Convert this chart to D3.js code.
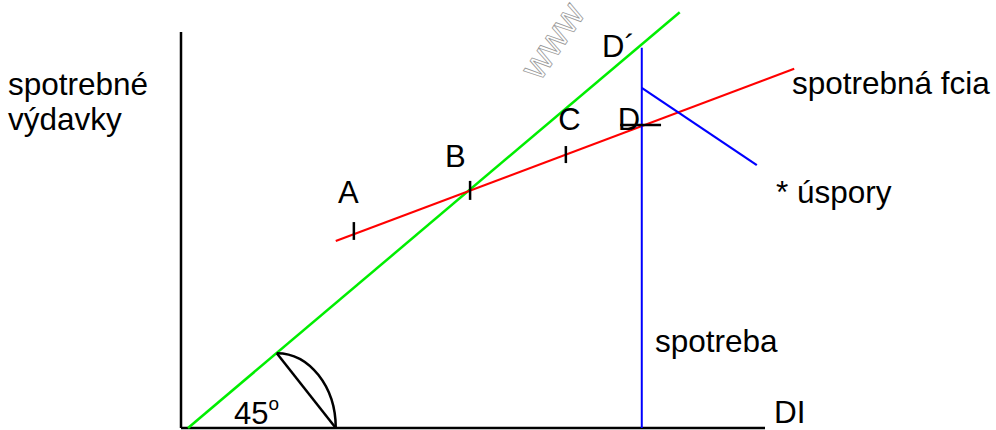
<!DOCTYPE html>
<html>
<head>
<meta charset="utf-8">
<script src="https://cdn.jsdelivr.net/npm/d3@7/dist/d3.min.js"></script>
<style>
  body { margin: 0; background: #fff; }
  text { font-family: "Liberation Sans", Arial, sans-serif; }
</style>
</head>
<body>
<svg width="996" height="430"></svg>
<script>
// line endpoints in chart units (x: disposable income, y: consumption)
const diagonal = [[1.2, 0], [85.4, 105]];         // 45 degree line
const consumption = [[26.5, 47.2], [105, 90.7]];  // spotrebna funkcia
const spendLine = [[78.9, 0], [78.9, 96]];        // spotreba (vertical)
const savingsLine = [[78.9, 85.9], [98.6, 66.4]]; // uspory
// tick marks on the consumption line
const ticks = [
  [[29.6, 47.5], [29.6, 52]],
  [[49.5, 57.6], [49.5, 62.4]],
  [[65.9, 66.9], [65.9, 71.2]],
  [[75.2, 76.5], [82.2, 76.5]]
];
const pointLabels = ["A", "B", "C", "D", "D´"];
const pointPos = [[26.9, 56.8], [45.2, 65.9], [64.6, 75.3], [74.8, 75.3], [72.1, 93.7]];
const angleArc = [[16.4, 18.9], [26.5, 0]];

const svg = d3.select("svg");
const x = d3.scaleLinear().domain([0, 100]).range([181, 765]);
const y = d3.scaleLinear().domain([0, 100]).range([428, 32]);
const line = d3.line().x(d => x(d[0])).y(d => y(d[1]));

// axes
svg.append("line").attr("x1", x(0)).attr("x2", x(0)).attr("y1", y(0)).attr("y2", y(100))
  .attr("stroke", "#000").attr("stroke-width", 2.5);
svg.append("line").attr("x1", x(0)).attr("x2", x(100)).attr("y1", y(0)).attr("y2", y(0))
  .attr("stroke", "#000").attr("stroke-width", 2.5);

// watermark
svg.append("text").attr("transform", "translate(540,82) rotate(-56)")
  .attr("font-size", 38).attr("fill", "#fff").attr("stroke", "#999").attr("stroke-width", 0.8)
  .text("www");

svg.append("path").attr("d", line(diagonal)).attr("stroke", "#00ee00").attr("stroke-width", 2.5).attr("fill", "none");
svg.append("path").attr("d", line(consumption)).attr("stroke", "#ff0000").attr("stroke-width", 2.2).attr("fill", "none");
svg.append("path").attr("d", line(spendLine)).attr("stroke", "#0000ff").attr("stroke-width", 2).attr("fill", "none");
svg.append("path").attr("d", line(savingsLine)).attr("stroke", "#0000ff").attr("stroke-width", 2.2).attr("fill", "none");

svg.selectAll(".tick").data(ticks).enter().append("path")
  .attr("class", "tick").attr("d", d => line(d))
  .attr("stroke", "#000").attr("stroke-width", 2.5).attr("fill", "none");

// 45 degree angle mark
const p1 = angleArc[0], p2 = angleArc[1];
const rx = x(p2[0]) - x(p1[0]), ry = y(p2[1]) - y(p1[1]);
svg.append("path").attr("d", line(angleArc)).attr("stroke", "#000").attr("stroke-width", 2.5).attr("fill", "none");
svg.append("path")
  .attr("d", `M${x(p1[0])},${y(p1[1])} A${rx},${ry} 0 0 1 ${x(p2[0])},${y(p2[1])}`)
  .attr("stroke", "#000").attr("stroke-width", 2.5).attr("fill", "none");

svg.selectAll(".plabel").data(pointLabels).enter().append("text")
  .attr("class", "plabel")
  .attr("x", (d, i) => x(pointPos[i][0])).attr("y", (d, i) => y(pointPos[i][1]))
  .attr("font-size", 31).attr("fill", "#000")
  .text(d => d);

const texts = [
  {t: "spotrebné", x: 8, y: 95},
  {t: "výdavky", x: 8, y: 130},
  {t: "spotrebná fcia", x: 792, y: 94},
  {t: "* úspory", x: 776, y: 203},
  {t: "spotreba", x: 655, y: 352},
  {t: "DI", x: 774, y: 423}
];
svg.selectAll(".lbl").data(texts).enter().append("text")
  .attr("class", "lbl").attr("x", d => d.x).attr("y", d => d.y)
  .attr("font-size", 31.5).attr("fill", "#000").text(d => d.t);

const deg = svg.append("text").attr("x", 234).attr("y", 424).attr("font-size", 31);
deg.append("tspan").text("45");
deg.append("tspan").attr("dy", -14).attr("font-size", 19).text("o");
</script>
</body>
</html>
